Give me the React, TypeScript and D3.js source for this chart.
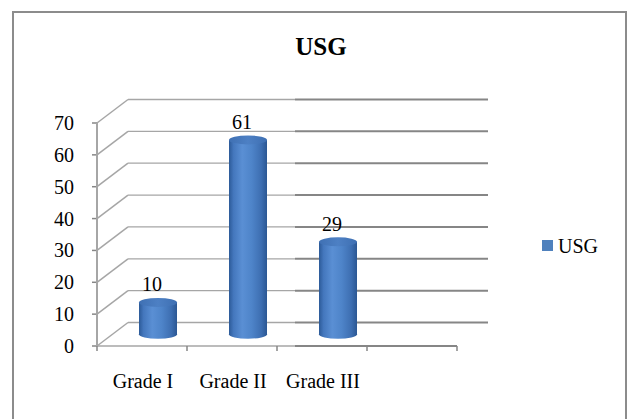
import React from "react";
import * as d3 from "d3";

const categories = ["Grade I", "Grade II", "Grade III"];
const values = [10, 61, 29];
const yTicks = [0, 10, 20, 30, 40, 50, 60, 70];
const seriesName = "USG";
const title = "USG";

const W = 631;
const H = 419;
const FONT = "'Liberation Serif', 'Times New Roman', serif";

export default function App() {
  const x0 = 97;
  const x1 = 457;
  const dx = 31;
  const dy = -23.5;
  const split = 295;

  const y = d3.scaleLinear().domain([0, 70]).range([346, 123]);
  const slots = [...categories, ""];
  const x = d3.scaleBand<string>().domain(slots.map((s, i) => String(i))).range([x0, x1]).paddingInner(0).paddingOuter(0);
  const bw = x.bandwidth();

  const rx = 19;
  const ry = 4.5;

  const lightStroke = "#a6a6a6";
  const darkStroke = "#868686";

  return (
    <svg width={W} height={H} style={{ position: "absolute", left: 0, top: 0, background: "#fff" }} fontFamily={FONT}>
      <defs>
        <linearGradient id="cyl" x1="0" x2="1" y1="0" y2="0">
          <stop offset="0%" stopColor="#2c5a98" />
          <stop offset="12%" stopColor="#4477bd" />
          <stop offset="35%" stopColor="#5a8fd4" />
          <stop offset="60%" stopColor="#4e84c9" />
          <stop offset="85%" stopColor="#3d6eb1" />
          <stop offset="100%" stopColor="#2b5793" />
        </linearGradient>
        <linearGradient id="cyltop" x1="0" x2="1" y1="0" y2="0">
          <stop offset="0%" stopColor="#3f70b3" />
          <stop offset="50%" stopColor="#4d80c4" />
          <stop offset="100%" stopColor="#3e6fb2" />
        </linearGradient>
      </defs>

      {/* outer border */}
      <rect x={13} y={12} width={613} height={420} fill="none" stroke="#8c8c8c" strokeWidth={2} />

      {/* title */}
      <text x={321} y={55} textAnchor="middle" fontSize={25} fontWeight="bold" fill="#000">{title}</text>

      {/* back wall gridlines and left wall diagonals */}
      {yTicks.map((t) => {
        const yf = y(t);
        const yb = yf + dy;
        return (
          <g key={"g" + t}>
            <line x1={x0} y1={yf} x2={x0 + dx} y2={yb} stroke={lightStroke} strokeWidth={1.5} />
            <line x1={x0 + dx} y1={yb} x2={split} y2={yb} stroke={lightStroke} strokeWidth={1.3} />
            <line x1={split} y1={yb} x2={x1 + dx} y2={yb} stroke={darkStroke} strokeWidth={2} />
            <line x1={x0 - 5} y1={yf} x2={x0} y2={yf} stroke={darkStroke} strokeWidth={1.5} />
          </g>
        );
      })}

      {/* front vertical axis */}
      <line x1={x0} y1={y(0)} x2={x0} y2={y(70)} stroke={lightStroke} strokeWidth={2} />

      {/* floor front edge */}
      <line x1={x0} y1={y(0)} x2={split} y2={y(0)} stroke={lightStroke} strokeWidth={1.5} />
      <line x1={split} y1={y(0)} x2={x1} y2={y(0)} stroke={darkStroke} strokeWidth={2} />
      {slots.map((s, i) => (
        <line key={"t" + i} x1={x(String(i))!} y1={y(0)} x2={x(String(i))!} y2={y(0) + 5} stroke={darkStroke} strokeWidth={1.5} />
      ))}
      <line x1={x1} y1={y(0)} x2={x1} y2={y(0) + 5} stroke={darkStroke} strokeWidth={1.5} />

      {/* y tick labels */}
      {yTicks.map((t) => (
        <text key={"l" + t} x={74} y={y(t) + 7} textAnchor="end" fontSize={20} fill="#000">{t}</text>
      ))}

      {/* cylinders */}
      {values.map((v, i) => {
        const cx = x(String(i))! + bw / 2 + dx / 2 + 0.5;
        const base = y(0) + dy / 2;
        const top = y(v) + dy / 2;
        return (
          <g key={"c" + i}>
            <ellipse cx={cx} cy={base} rx={rx} ry={ry} fill="url(#cyl)" />
            <rect x={cx - rx} y={top} width={rx * 2} height={base - top} fill="url(#cyl)" />
            <ellipse cx={cx} cy={top} rx={rx} ry={ry} fill="url(#cyltop)" />
            <text x={x(String(i))! + bw / 2 + 10} y={top - 11} textAnchor="middle" fontSize={20} fill="#000">{v}</text>
          </g>
        );
      })}

      {/* category labels */}
      {categories.map((c, i) => (
        <text key={"x" + i} x={x(String(i))! + bw / 2 + 1} y={388} textAnchor="middle" fontSize={20} fill="#000">{c}</text>
      ))}

      {/* legend */}
      <rect x={542} y={240} width={11} height={11} fill="#4f81bd" />
      <text x={558} y={253} fontSize={20} fill="#000">{seriesName}</text>
    </svg>
  );
}
